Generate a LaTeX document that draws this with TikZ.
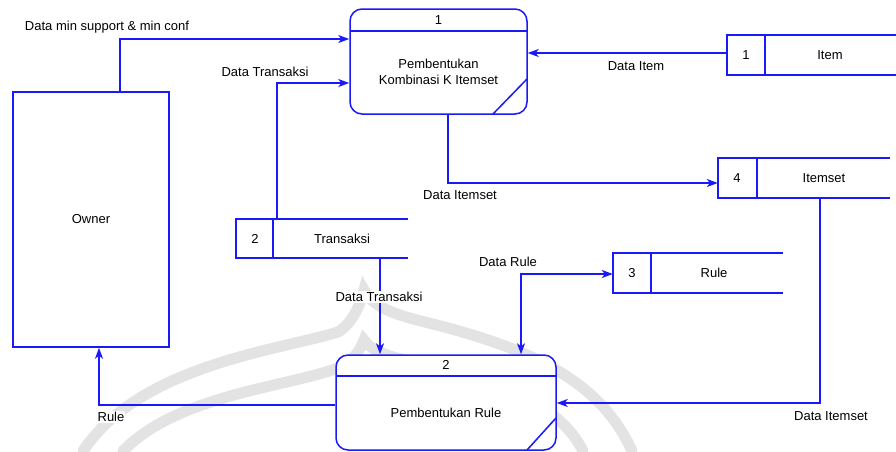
\documentclass[tikz,border=0pt]{standalone}
\usepackage{fontspec}
\setmainfont{Liberation Sans}
\usetikzlibrary{arrows.meta}
\definecolor{dfd}{RGB}{25,25,250}
\begin{document}
\begin{tikzpicture}[x=1pt,y=-1pt,
  every node/.style={font=\fontsize{13}{15.5}\selectfont, inner sep=1pt},
  ln/.style={draw=dfd, line width=1.5pt},
  arr/.style={ln, -{Stealth[length=11pt,width=8pt,inset=3pt]}},
  arrb/.style={ln, {Stealth[length=11pt,width=8pt,inset=3pt]}-{Stealth[length=11pt,width=8pt,inset=3pt]}},
  proc/.style={draw=dfd, line width=1.5pt, rounded corners=12pt, fill=white},
  box/.style={minimum width=#1, minimum height=39pt, inner sep=0pt},
  lbl/.style={fill=white, inner sep=1pt},
  wm/.style={draw=black!11, line width=11pt, line cap=round}]
\useasboundingbox (0,0) rectangle (896,451);
\fill[white] (0,0) rectangle (896,451);
% watermark
\draw[wm] (83,451) .. controls (140,365) and (280,350) .. (338,332) .. controls (352,324) and (360,305) .. (364,290)
  .. controls (372,306) and (392,314) .. (425,322) .. controls (530,348) and (600,380) .. (632,451);
\draw[wm] (123,451) .. controls (180,392) and (300,386) .. (345,365) .. controls (355,358) and (361,348) .. (364,340)
  .. controls (372,352) and (392,358) .. (425,364) .. controls (500,380) and (560,405) .. (583,451);
% processes
\node[proc, minimum width=177pt, minimum height=105pt] (p1) at (438.5,61.5) {};
\draw[ln] (350,31) -- (527,31);
\draw[ln] (493,114) -- (527,79);
\node (p1n) at (438.5,20) {1};
\node[align=center] (p1t) at (438.5,72) {Pembentukan\\Kombinasi K Itemset};
\node[proc, minimum width=220pt, minimum height=95pt] (p2) at (446,402.5) {};
\draw[ln] (336,376) -- (556,376);
\draw[ln] (527,450) -- (556,418);
\node (p2n) at (446,365) {2};
\node (p2t) at (446,413) {Pembentukan Rule};
% owner
\node[draw=dfd, line width=1.5pt, minimum width=156pt, minimum height=255pt] (own) at (91,219.5) {Owner};
% stores
\node[box=169pt] (s1) at (811.5,55) {};
\draw[ln] (896,35) -- (727,35) -- (727,75) -- (896,75); \draw[ln] (765,35) -- (765,75);
\node (s1n) at (746,55) {1}; \node (s1t) at (830,55) {Item};
\node[box=172pt] (s4) at (804,178) {};
\draw[ln] (890,158) -- (718,158) -- (718,198) -- (890,198); \draw[ln] (757,158) -- (757,198);
\node (s4n) at (737,178) {4}; \node (s4t) at (824,178) {Itemset};
\node[box=172pt] (s2) at (322,238.5) {};
\draw[ln] (408,219) -- (236,219) -- (236,258) -- (408,258); \draw[ln] (273,219) -- (273,258);
\node (s2n) at (255,238.5) {2}; \node (s2t) at (342,238.5) {Transaksi};
\node[box=170pt] (s3) at (698,273) {};
\draw[ln] (783,253) -- (613,253) -- (613,293) -- (783,293); \draw[ln] (651,253) -- (651,293);
\node (s3n) at (632,273) {3}; \node (s3t) at (714,273) {Rule};
% helper coordinates
\coordinate (a1) at (120,39);
\coordinate (a2) at (277,83);
\coordinate (a3) at (0,53);
\coordinate (a4) at (448,183);
\coordinate (a5) at (820,403);
\coordinate (a6) at (380,0);
\coordinate (a7) at (521,274);
\coordinate (a8) at (99,405);
% connectors
\draw[arr] (own.north -| a1) |- (p1.west |- a1);
\draw[arr] (s2.north -| a2) |- (p1.west |- a2);
\draw[arr] (s1.west |- a3) -- (p1.east |- a3);
\draw[arr] (p1.south -| a4) |- (s4.west |- a4);
\draw[arr] (s4.south -| a5) |- (p2.east |- a5);
\draw[arr] (s2.south -| a6) -- (p2.north -| a6);
\draw[arrb] (p2.north -| a7) |- (s3.west |- a7);
\draw[arr] (p2.west |- a8) -| (own.south -| a8);
% labels
\node[lbl] (l1) at (107,27) {Data min support \& min conf};
\node[lbl] (l2) at (265,72) {Data Transaksi};
\node[lbl] (l3) at (636,66) {Data Item};
\node[lbl] (l4) at (460,195) {Data Itemset};
\node[lbl] (l5) at (379,297) {Data Transaksi};
\node[lbl] (l6) at (508,262) {Data Rule};
\node[lbl] (l7) at (111,417) {Rule};
\node[lbl] (l8) at (831,416) {Data Itemset};
\end{tikzpicture}
\end{document}
